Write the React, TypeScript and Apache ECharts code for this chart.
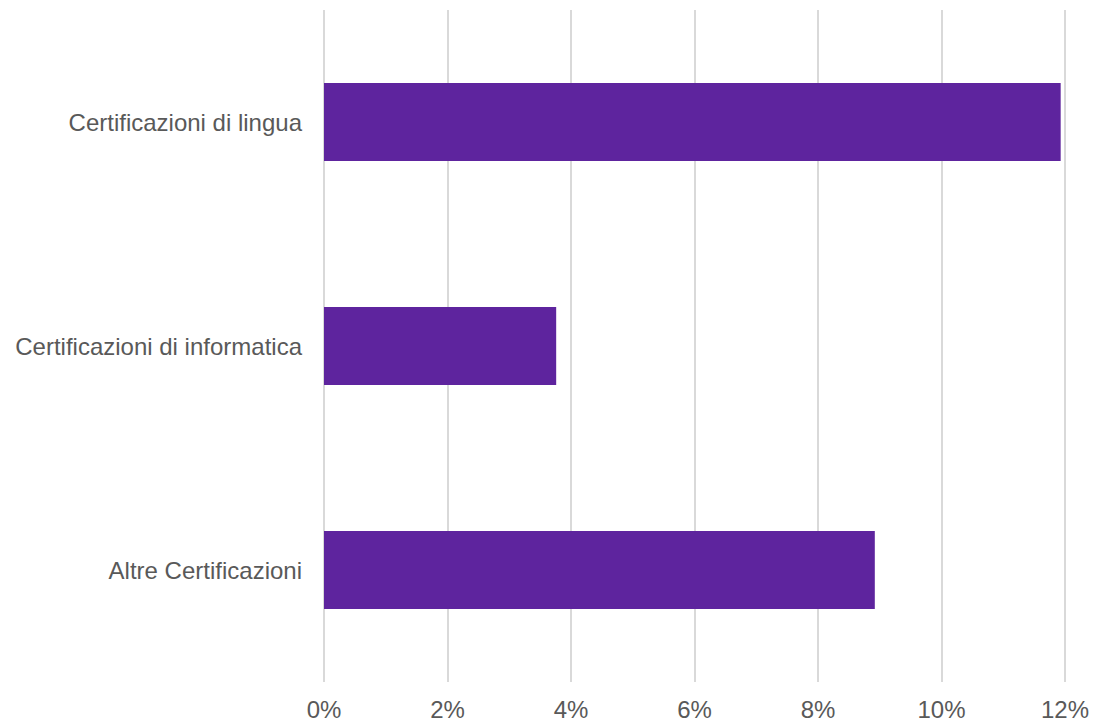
import React, { useEffect, useRef } from "react";
import * as echarts from "echarts";

const categories = ["Altre Certificazioni", "Certificazioni di informatica", "Certificazioni di lingua"];
const values = [8.92, 3.76, 11.93];
const xTicks = [0, 2, 4, 6, 8, 10, 12];

export default function App() {
  const ref = useRef<HTMLDivElement>(null);
  useEffect(() => {
    if (!ref.current) return;
    const chart = echarts.init(ref.current, undefined, { renderer: "svg" });
    chart.setOption({
      animation: false,
      backgroundColor: "#ffffff",
      grid: { left: 324, right: 30, top: 10, bottom: 41, containLabel: false },
      xAxis: {
        type: "value",
        min: xTicks[0],
        max: xTicks[xTicks.length - 1],
        interval: 2,
        axisLine: { show: false },
        axisTick: { show: false },
        splitLine: { show: true, lineStyle: { color: "#d9d9d9", width: 2 } },
        axisLabel: {
          color: "#595959",
          fontSize: 24,
          fontFamily: "Liberation Sans, Arial, sans-serif",
          margin: 15,
          formatter: (v: number) => `${v}%`,
        },
      },
      yAxis: {
        type: "category",
        data: categories,
        axisLine: { show: false },
        axisTick: { show: false },
        axisLabel: {
          color: "#595959",
          fontSize: 24,
          fontFamily: "Liberation Sans, Arial, sans-serif",
          margin: 22,
        },
      },
      series: [
        {
          type: "bar",
          data: values,
          barWidth: 78,
          itemStyle: { color: "#5e249e" },
        },
      ],
    });
    return () => chart.dispose();
  }, []);
  return (
    <div
      ref={ref}
      style={{ position: "fixed", left: 0, top: 0, width: 1095, height: 723, background: "#fff" }}
    />
  );
}
